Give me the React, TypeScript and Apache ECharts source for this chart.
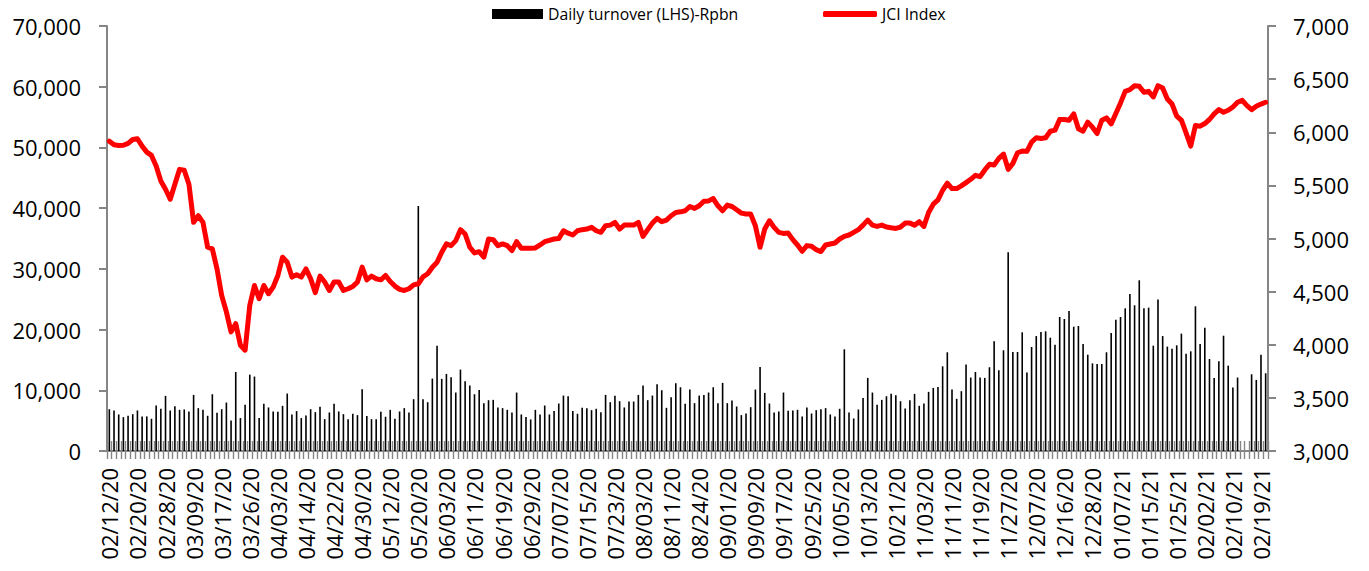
import { useEffect, useRef } from "react";
import * as echarts from "echarts";

// Labelled trading dates (every 6th trading day)
const tickDates = [
  "02/12/20", "02/20/20", "02/28/20", "03/09/20", "03/17/20", "03/26/20", "04/03/20", "04/14/20",
  "04/22/20", "04/30/20", "05/12/20", "05/20/20", "06/03/20", "06/11/20", "06/19/20", "06/29/20",
  "07/07/20", "07/15/20", "07/23/20", "08/03/20", "08/11/20", "08/24/20", "09/01/20", "09/09/20",
  "09/17/20", "09/25/20", "10/05/20", "10/13/20", "10/21/20", "11/03/20", "11/11/20", "11/19/20",
  "11/27/20", "12/07/20", "12/16/20", "12/28/20", "01/07/21", "01/15/21", "01/25/21", "02/02/21",
  "02/10/21", "02/19/21",
];
const trailingDates = ["02/22/21"];

// Daily turnover (LHS), Rp bn
const turnover: (number | null)[] = [
  6880, 6680, 6020, 5580, 5800, 6070, 6680, 5690, 5690, 5310,
  7490, 6950, 9080, 6680, 7380, 6780, 6840, 6510, 9240, 7060,
  6780, 5800, 9350, 6290, 6890, 7980, 5040, 13020, 5420, 7600,
  12580, 12260, 5420, 7770, 7170, 6510, 6460, 7440, 9460, 6020,
  6570, 5420, 5850, 6890, 6400, 7280, 5250, 6350, 7770, 6510,
  6070, 5250, 6130, 5910, 10170, 5750, 5250, 5250, 6460, 5640,
  6780, 5310, 6510, 7060, 6350, 8530, 40350, 8530, 8040, 11930,
  17350, 11880, 12690, 12150, 9630, 13410, 11490, 10780, 9350, 10060,
  7880, 8370, 8420, 7170, 7060, 6780, 6350, 9630, 6020, 5580,
  5200, 6780, 6020, 7490, 6020, 6570, 7820, 9130, 9020, 6570,
  6130, 7110, 7060, 6730, 6950, 6400, 9240, 8040, 9080, 8200,
  7170, 8150, 8150, 9240, 10780, 8370, 9130, 11000, 10010, 7110,
  8860, 11160, 10500, 7770, 10120, 7880, 9130, 9240, 9630, 10500,
  7880, 11220, 7880, 8310, 7330, 5910, 6180, 7220, 10120, 13850,
  9570, 7820, 6350, 6510, 9630, 6620, 6680, 6780, 5690, 7170,
  6180, 6730, 6890, 7060, 6020, 5690, 6950, 16750, 6350, 5360,
  6840, 8750, 12040, 9630, 7600, 8420, 9020, 9410, 9190, 8200,
  7000, 8370, 9410, 7440, 7820, 9740, 10390, 10560, 13950, 16260,
  10120, 8590, 9850, 14230, 12100, 13020, 12100, 12040, 13790, 18060,
  13300, 16590, 32720, 16310, 16310, 19550, 12910, 17130, 18930, 19600,
  19710, 18660, 17520, 22070, 21740, 23050, 20480, 20590, 17620, 15860,
  14430, 14330, 14330, 16260, 19430, 21630, 22070, 23500, 25870, 24000,
  28120, 23500, 23610, 17350, 24940, 18930, 17190, 16850, 17410, 19330,
  16030, 16420, 23830, 17620, 20310, 15150, 12040, 14770, 18990, 14060,
  10450, 12100, null, null, 12640, 11710, 15860, 12800,
];

// JCI Index (RHS)
const jci: number[] = [
  5916, 5882, 5876, 5878, 5895, 5932, 5939, 5869, 5813, 5782,
  5682, 5541, 5464, 5370, 5511, 5651, 5642, 5511, 5152, 5214,
  5152, 4918, 4902, 4714, 4464, 4309, 4121, 4199, 3996, 3949,
  4371, 4558, 4433, 4558, 4480, 4543, 4652, 4824, 4777, 4637,
  4658, 4637, 4714, 4621, 4490, 4646, 4590, 4511, 4590, 4590,
  4511, 4527, 4549, 4590, 4730, 4611, 4646, 4621, 4611, 4652,
  4596, 4552, 4521, 4511, 4527, 4564, 4574, 4639, 4668, 4730,
  4777, 4871, 4949, 4933, 4980, 5083, 5042, 4918, 4864, 4876,
  4824, 4995, 4989, 4933, 4949, 4933, 4886, 4970, 4908, 4908,
  4908, 4911, 4939, 4970, 4983, 4995, 4999, 5073, 5050, 5033,
  5073, 5083, 5089, 5105, 5073, 5058, 5120, 5126, 5151, 5089,
  5126, 5126, 5126, 5151, 5020, 5083, 5145, 5189, 5158, 5173,
  5214, 5245, 5251, 5261, 5301, 5283, 5308, 5351, 5354, 5376,
  5308, 5261, 5314, 5301, 5270, 5239, 5230, 5230, 5120, 4917,
  5089, 5167, 5105, 5058, 5048, 5051, 4989, 4939, 4880, 4933,
  4927, 4895, 4877, 4939, 4948, 4958, 4995, 5020, 5033, 5058,
  5083, 5126, 5173, 5126, 5114, 5126, 5108, 5101, 5095, 5108,
  5145, 5145, 5126, 5158, 5114, 5245, 5323, 5364, 5454, 5520,
  5470, 5470, 5495, 5526, 5557, 5595, 5582, 5645, 5698, 5692,
  5754, 5795, 5651, 5707, 5807, 5823, 5820, 5907, 5948, 5941,
  5948, 6010, 6020, 6120, 6120, 6113, 6173, 6032, 6010, 6095,
  6048, 5988, 6113, 6135, 6079, 6176, 6276, 6385, 6401, 6438,
  6432, 6376, 6385, 6332, 6438, 6416, 6313, 6266, 6151, 6113,
  5995, 5870, 6063, 6057, 6082, 6120, 6173, 6213, 6188, 6207,
  6238, 6282, 6300, 6250, 6213, 6245, 6265, 6282,
];

const leftTicks = { min: 0, max: 70000, interval: 10000 };
const rightTicks = { min: 3000, max: 7000, interval: 500 };

function pad(n: number) {
  return n < 10 ? "0" + n : String(n);
}
function parseDate(s: string) {
  const [m, d, y] = s.split("/").map(Number);
  return new Date(Date.UTC(2000 + y, m - 1, d));
}
function fmtDate(dt: Date) {
  return `${pad(dt.getUTCMonth() + 1)}/${pad(dt.getUTCDate())}/${pad(dt.getUTCFullYear() % 100)}`;
}
// trading-day categories: labelled dates plus the 5 trading days between each pair
function buildCategories(): string[] {
  const out: string[] = [];
  for (let k = 0; k < tickDates.length; k++) {
    out.push(tickDates[k]);
    if (k < tickDates.length - 1) {
      const a = parseDate(tickDates[k]).getTime();
      const b = parseDate(tickDates[k + 1]).getTime();
      const between: string[] = [];
      for (let t = a + 86400000; t < b; t += 86400000) {
        const dt = new Date(t);
        const wd = dt.getUTCDay();
        if (wd !== 0 && wd !== 6) between.push(fmtDate(dt));
      }
      out.push(...between.slice(0, 5));
    }
  }
  out.push(...trailingDates);
  return out;
}

const FONT = "'Open Sans', 'DejaVu Sans', sans-serif";
const AXIS_GRAY = "#858585";

export default function App() {
  const ref = useRef<HTMLDivElement>(null);

  useEffect(() => {
    if (!ref.current) return;
    const chart = echarts.init(ref.current, undefined, { renderer: "svg" });
    const categories = buildCategories();
    const fmt = (v: number) => v.toLocaleString("en-US");

    chart.setOption({
      animation: false,
      backgroundColor: "#ffffff",
      grid: { left: 107, right: 101, top: 26, bottom: 120, containLabel: false },
      legend: [
        {
          data: [{ name: "Daily turnover (LHS)-Rpbn", icon: "rect" }],
          left: 492,
          top: 6,
          padding: 0,
          itemWidth: 51,
          itemHeight: 10,
          selectedMode: false,
          textStyle: { fontFamily: FONT, fontSize: 15.8, color: "#000" },
        },
        {
          data: [{ name: "JCI Index", icon: "roundRect" }],
          left: 823,
          top: 6,
          padding: 0,
          itemWidth: 54,
          itemHeight: 6,
          selectedMode: false,
          textStyle: { fontFamily: FONT, fontSize: 15.8, color: "#000" },
        },
      ],
      xAxis: [
        {
          type: "category",
          data: categories,
          boundaryGap: true,
          position: "bottom",
          axisLine: { show: true, lineStyle: { color: AXIS_GRAY, width: 2 } },
          axisTick: { show: true, interval: 0, length: 8, lineStyle: { color: AXIS_GRAY, width: 1.4 } },
          axisLabel: {
            interval: 5,
            rotate: 90,
            margin: 17,
            fontFamily: FONT,
            fontSize: 22,
            color: "#000",
          },
          splitLine: { show: false },
        },
        {
          type: "category",
          data: categories,
          boundaryGap: true,
          position: "bottom",
          axisLine: { show: false },
          axisTick: { show: true, inside: true, interval: 0, length: 10, lineStyle: { color: AXIS_GRAY, width: 1.4 } },
          axisLabel: { show: false },
          splitLine: { show: false },
        },
      ],
      yAxis: [
        {
          type: "value",
          position: "left",
          ...leftTicks,
          axisLine: { show: true, lineStyle: { color: AXIS_GRAY, width: 2 } },
          axisTick: { show: true, length: 8, lineStyle: { color: AXIS_GRAY, width: 2 } },
          axisLabel: { formatter: fmt, margin: 26, fontFamily: FONT, fontSize: 22, color: "#000" },
          splitLine: { show: false },
        },
        {
          type: "value",
          position: "right",
          ...rightTicks,
          axisLine: { show: true, lineStyle: { color: AXIS_GRAY, width: 2 } },
          axisTick: { show: true, length: 8, lineStyle: { color: AXIS_GRAY, width: 2 } },
          axisLabel: { formatter: fmt, margin: 25, fontFamily: FONT, fontSize: 22, color: "#000" },
          splitLine: { show: false },
        },
      ],
      series: [
        {
          name: "Daily turnover (LHS)-Rpbn",
          type: "bar",
          xAxisIndex: 0,
          yAxisIndex: 0,
          data: turnover,
          barWidth: 1.6,
          itemStyle: { color: "#000000" },
          z: 2,
        },
        {
          name: "JCI Index",
          type: "line",
          xAxisIndex: 0,
          yAxisIndex: 1,
          data: jci,
          symbol: "none",
          connectNulls: true,
          itemStyle: { color: "#ff0000" },
          lineStyle: { color: "#ff0000", width: 5, cap: "round", join: "round" },
          z: 3,
        },
      ],
    });

    return () => chart.dispose();
  }, []);

  return (
    <div
      ref={ref}
      style={{ position: "absolute", left: 0, top: 0, width: 1369, height: 571, background: "#fff" }}
    />
  );
}
